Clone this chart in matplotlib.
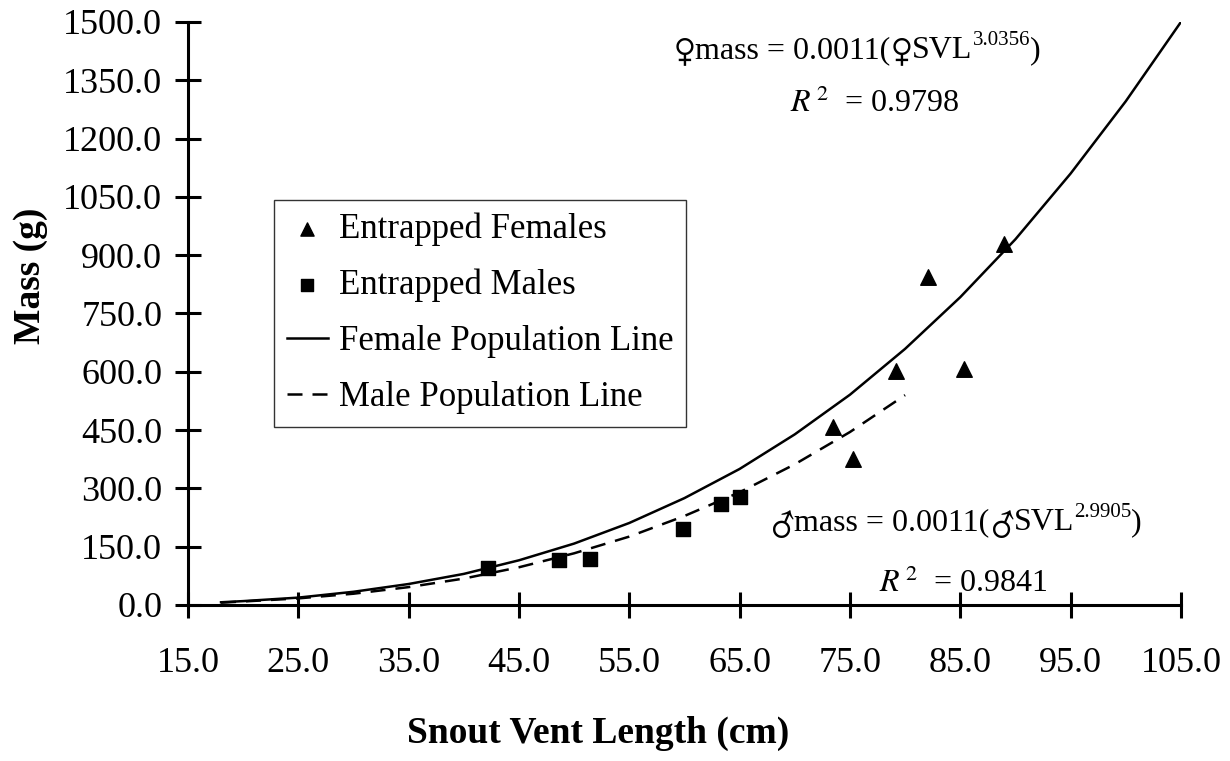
import numpy as np
import matplotlib
matplotlib.use("Agg")
import matplotlib.pyplot as plt
import matplotlib.ticker as mticker

plt.rcParams["font.family"] = ["Liberation Serif", "DejaVu Sans"]
plt.rcParams["mathtext.fontset"] = "stix"

# entrapped animals (SVL cm, mass g)
fem_svl = [73.5, 75.3, 79.2, 82.1, 85.3, 89.0]
fem_mass = [458, 375, 603, 845, 607, 930]
male_svl = [42.2, 48.6, 51.4, 59.9, 63.3, 65.0]
male_mass = [94, 116, 119, 195, 261, 279]

# population lines
fem_line_svl = [18, 20, 25, 30, 35, 40, 45, 50, 55, 60, 65, 70, 75, 80, 85, 90, 95, 100, 105]
fem_line_mass = [7, 10, 19, 34, 54, 80, 115, 158, 211, 275, 350, 439, 541, 659, 792, 941, 1110, 1296, 1500]
male_line_svl = [18, 20, 25, 30, 35, 40, 45, 50, 55, 60, 65, 70, 75, 80]
male_line_mass = [6, 9, 17, 29, 46, 68, 97, 133, 176, 229, 290, 362, 445, 540]

x_ticks = [15, 25, 35, 45, 55, 65, 75, 85, 95, 105]
y_ticks = [0, 150, 300, 450, 600, 750, 900, 1050, 1200, 1350, 1500]

fem_exp = "3.0356"
fem_r2 = "0.9798"
male_exp = "2.9905"
male_r2 = "0.9841"

TICK_FS = 26
LEG_FS = 25
ANN_FS = 23
SERIF = ["Liberation Serif", "DejaVu Sans"]
SYMBOL = ["STIXGeneral", "DejaVu Sans"]

fig = plt.figure(figsize=(12.3, 7.61), dpi=100)
ax = fig.add_axes([0.1528, 0.2050, 0.8073, 0.7661])

ax.plot(fem_line_svl, fem_line_mass, color="black", lw=1.8, label="Female Population Line", zorder=2)
ax.plot(male_line_svl, male_line_mass, color="black", lw=1.8, dashes=(6, 4), label="Male Population Line", zorder=2)
ax.scatter(fem_svl, fem_mass, marker="^", s=125, color="black", label="Entrapped Females", zorder=3)
ax.scatter(male_svl, male_mass, marker="s", s=100, color="black", label="Entrapped Males", zorder=3)

ax.set_xlim(15, 105)
ax.set_ylim(0, 1500)
ax.set_xticks(x_ticks)
ax.set_yticks(y_ticks)
ax.xaxis.set_major_formatter(mticker.FormatStrFormatter("%.1f"))
ax.yaxis.set_major_formatter(mticker.FormatStrFormatter("%.1f"))

for side in ["top", "right"]:
    ax.spines[side].set_visible(False)
for side in ["left", "bottom"]:
    ax.spines[side].set_linewidth(2.2)
ax.tick_params(axis="both", direction="inout", length=19, width=2.2, labelsize=TICK_FS)
ax.tick_params(axis="x", pad=21)
ax.tick_params(axis="y", pad=9)

fig.text(30 / 1230, 1 - 276 / 761, "Mass (g)", rotation=90, ha="center", va="center",
         fontsize=27, fontweight="bold")
fig.text(598 / 1230, 1 - 733 / 761, "Snout Vent Length (cm)", ha="center", va="center",
         fontsize=27, fontweight="bold")

# handles in the order shown in the legend
h, l = ax.get_legend_handles_labels()
order = [2, 3, 0, 1]
leg = ax.legend([h[i] for i in order], [l[i] for i in order],
                loc="upper left", bbox_to_anchor=(274 / 1230, 1 - 200 / 761),
                bbox_transform=fig.transFigure, borderaxespad=0,
                fontsize=LEG_FS, frameon=True, fancybox=False, shadow=False,
                handlelength=1.2, handletextpad=0.3, labelspacing=0.66,
                borderpad=0.36, markerscale=0.85)
leg.get_frame().set_edgecolor("black")
leg.get_frame().set_linewidth(1.0)


def chain(x, y, pieces):
    # lay text pieces side by side on a common baseline
    prev = None
    for text, size, fam, rise in pieces:
        kw = dict(fontsize=size, family=fam, ha="left", va="baseline",
                  xytext=(0, rise), textcoords="offset points")
        if prev is None:
            t = ax.annotate(text, xy=(x, y), xycoords="data", **kw)
        else:
            t = ax.annotate(text, xy=(1, y), xycoords=(prev, "data"), **kw)
        prev = t


def equation(x, y, sym, exp):
    chain(x, y, [
        (sym, 26, SYMBOL, -2),
        ("mass = 0.0011(", ANN_FS, SERIF, 0),
        (sym, 26, SYMBOL, -2),
        ("SVL", ANN_FS, SERIF, 0),
        (exp, 15, SERIF, 9),
        (")", ANN_FS, SERIF, 0),
    ])


equation(59.0, 1408, "\u2640", fem_exp)
ax.text(69.6, 1268, r"$R^{\,2}$  = " + fem_r2, fontsize=ANN_FS, ha="left", va="baseline")
equation(67.8, 193, "\u2642", male_exp)
ax.text(77.6, 33, r"$R^{\,2}$  = " + male_r2, fontsize=ANN_FS, ha="left", va="baseline")

fig.savefig("out.png", dpi=100, facecolor="white")
